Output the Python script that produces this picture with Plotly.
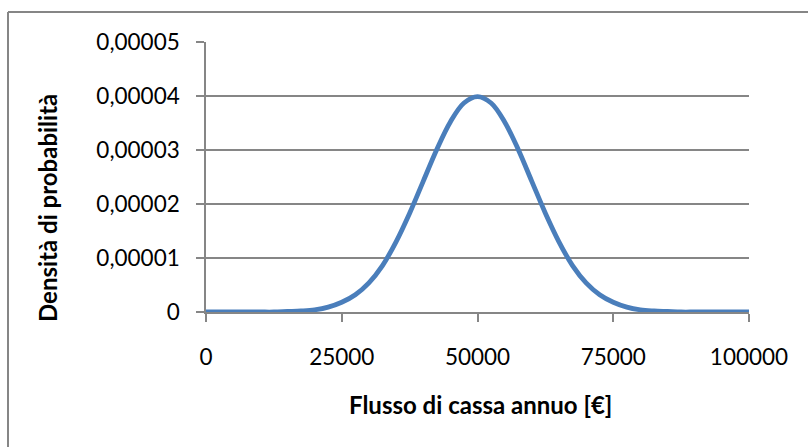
import plotly.graph_objects as go

# Flusso di cassa annuo [€] (x) and probability density (y)
flusso = [0, 2500, 5000, 7500, 10000, 12500, 15000, 17500, 20000, 22500,
          25000, 27500, 30000, 32500, 35000, 37500, 40000, 42500, 45000, 47500,
          50000, 52500, 55000, 57500, 60000, 62500, 65000, 67500, 70000, 72500,
          75000, 77500, 80000, 82500, 85000, 87500, 90000, 92500, 95000, 97500,
          100000]
densita = [0.0000000, 0.0000000, 0.0000000, 0.0000000, 0.0000000, 0.0000000,
           0.0000001, 0.0000002, 0.0000004, 0.0000009, 0.0000018, 0.0000032,
           0.0000054, 0.0000086, 0.0000130, 0.0000183, 0.0000242, 0.0000301,
           0.0000352, 0.0000387, 0.0000399, 0.0000387, 0.0000352, 0.0000301,
           0.0000242, 0.0000183, 0.0000130, 0.0000086, 0.0000054, 0.0000032,
           0.0000018, 0.0000009, 0.0000004, 0.0000002, 0.0000001, 0.0000000,
           0.0000000, 0.0000000, 0.0000000, 0.0000000, 0.0000000]

y_tickvals = [0, 0.00001, 0.00002, 0.00003, 0.00004, 0.00005]
y_ticktext = ["0", "0,00001", "0,00002", "0,00003", "0,00004", "0,00005"]
x_tickvals = [0, 25000, 50000, 75000, 100000]
x_ticktext = ["0", "25000", "50000", "75000", "100000"]
x_title = "Flusso di cassa annuo [€]"
y_title = "Densità di probabilità"

GRID = "#868686"
FONT = "Lato"

fig = go.Figure()
fig.add_trace(go.Scatter(
    x=flusso, y=densita, mode="lines",
    line=dict(color="#4a7ebb", width=4.8, shape="spline"),
    showlegend=False, cliponaxis=False,
))

W, H = 808, 447
L, R, T, B = 206, 59, 42, 135
pw, ph = W - L - R, H - T - B

def px_x(px):
    return (px - L) / pw

def px_y(py):
    return (H - B - py) / ph

fig.update_layout(
    width=W, height=H,
    margin=dict(l=L, r=R, t=T, b=B),
    paper_bgcolor="white", plot_bgcolor="white",
    font=dict(family=FONT, size=22.5, color="black"),
    xaxis=dict(
        range=[0, 100000], tickvals=x_tickvals, ticktext=x_ticktext,
        showgrid=False, zeroline=False, showline=True, linecolor=GRID, linewidth=1.5,
        ticks="outside", ticklen=8, tickwidth=1.5, tickcolor=GRID,
        ticklabelstandoff=16,
    ),
    yaxis=dict(
        range=[0, 0.00005], tickvals=y_tickvals, ticktext=y_ticktext,
        showgrid=True, gridcolor=GRID, gridwidth=1.5,
        zeroline=False, showline=True, linecolor=GRID, linewidth=1.5,
        ticks="outside", ticklen=8, tickwidth=1.5, tickcolor=GRID,
        ticklabelstandoff=12,
    ),
    annotations=[
        dict(text="<b>" + x_title + "</b>", xref="paper", yref="paper",
             x=px_x(480), y=px_y(404), xanchor="center", yanchor="middle",
             showarrow=False, font=dict(family=FONT, size=24, color="black")),
        dict(text="<b>" + y_title + "</b>", xref="paper", yref="paper",
             x=px_x(47), y=px_y(208), xanchor="center", yanchor="middle",
             textangle=-90, showarrow=False, font=dict(family=FONT, size=24, color="black")),
    ],
)

# outer chart-area border (partially outside the picture)
x_left = px_x(8)
y_top = px_y(12)
fig.add_shape(type="line", xref="paper", yref="paper", x0=x_left, x1=3, y0=y_top, y1=y_top,
              line=dict(color=GRID, width=2))
fig.add_shape(type="line", xref="paper", yref="paper", x0=x_left, x1=x_left, y0=y_top, y1=-3,
              line=dict(color=GRID, width=2))

fig.write_html("out.html")
